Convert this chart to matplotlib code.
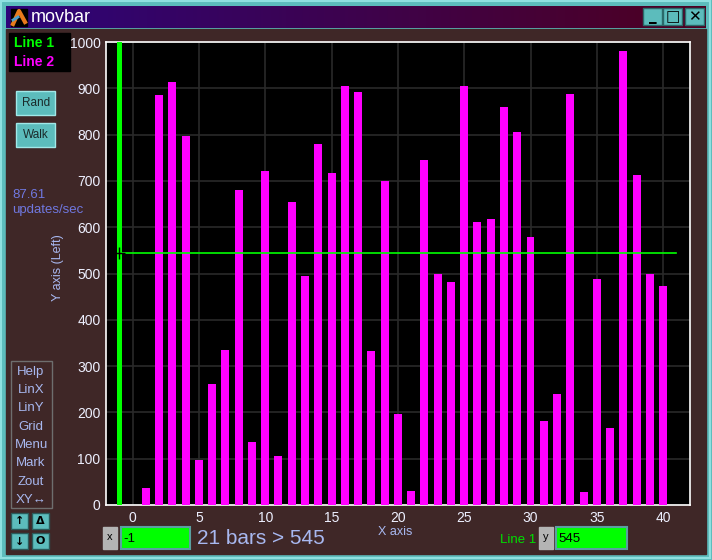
import numpy as np
import matplotlib
matplotlib.use("Agg")
import matplotlib.pyplot as plt
from matplotlib.patches import Rectangle

# data
bar_x = np.arange(1, 41)
bar_y = [37, 885, 914, 797, 97, 262, 335, 680, 136, 721,
         106, 654, 494, 779, 717, 905, 892, 333, 699, 197,
         30, 745, 500, 481, 905, 611, 617, 860, 805, 578,
         182, 240, 888, 28, 489, 167, 981, 712, 500, 473]
line1_x = [-1]
line1_y = [1000]
thresh = 545
cursor_x = -1
x_ticks = [0, 5, 10, 15, 20, 25, 30, 35, 40]
y_ticks = [0, 100, 200, 300, 400, 500, 600, 700, 800, 900, 1000]
menu_items = ["Help", "LinX", "LinY", "Grid", "Menu", "Mark", "Zout", "XY\u2194"]

W, H = 712, 560
BROWN = "#3f2727"
TEAL = "#5cbcbc"
LBLUE = "#a8b8f0"
GREEN = "#00ff00"
MAG = "#ff00ff"

plt.rcParams["font.family"] = ["Liberation Sans", "DejaVu Sans"]

fig = plt.figure(figsize=(W / 100, H / 100), dpi=100, facecolor=TEAL)

# background axes in pixel coordinates for the window chrome
bg = fig.add_axes([0, 0, 1, 1])
bg.set_xlim(0, W)
bg.set_ylim(H, 0)
bg.axis("off")

bg.add_patch(Rectangle((1, 1), W - 3, H - 3, fill=False, ec="#8fe0e0", lw=1.5))
bg.add_patch(Rectangle((6, 29), W - 12, H - 35, color=BROWN))

# title bar gradient
grad = np.linspace(0, 1, 256)
c0 = np.array([45, 5, 122]) / 255
c1 = np.array([78, 0, 32]) / 255
img = (c0[None, :] * (1 - grad[:, None]) + c1[None, :] * grad[:, None])[None, :, :]
bg.imshow(img, extent=(6, W - 6, 28, 6), aspect="auto", zorder=1)
bg.add_patch(Rectangle((11, 9), 16, 17, color="black", zorder=2))
bg.plot([13, 19, 25], [24, 11, 22], color="#e87a1c", lw=3, zorder=3)
bg.plot([13, 18], [20, 17], color="#4aa0d0", lw=2, zorder=3)
bg.text(31, 17.5, "movbar", color="white", fontsize=13, va="center", ha="left", zorder=3)

# window buttons
for bx, sym in zip([643, 663, 685], ["_", "\u25a1", "\u2715"]):
    bg.add_patch(Rectangle((bx, 8), 19, 17, fc=TEAL, ec="#2a6a6a", lw=1, zorder=3))
    bg.text(bx + 9.5, 16.5, sym, ha="center", va="center", fontsize=11,
            fontweight="bold", color="black", family=["DejaVu Sans"], zorder=4)

# legend box
bg.add_patch(Rectangle((9, 33), 61, 38, color="black"))
bg.text(14, 43, "Line 1", color=GREEN, fontsize=10, fontweight="bold", va="center")
bg.text(14, 62, "Line 2", color=MAG, fontsize=10, fontweight="bold", va="center")

# Rand / Walk buttons
for by, lab in [(91, "Rand"), (123, "Walk")]:
    bg.add_patch(Rectangle((16, by), 39, 24, fc=TEAL, ec="#a0e8e8", lw=1))
    bg.text(36, by + 12.5, lab, ha="center", va="center", fontsize=8.5, color="#1a2a2a")

bg.text(12, 195, "87.61", color="#7078e0", fontsize=9.5, va="center", ha="left")
bg.text(12, 210, "updates/sec", color="#7078e0", fontsize=9.5, va="center", ha="left")

bg.text(58, 268, "Y axis (Left)", rotation=90, color=LBLUE, fontsize=9,
        ha="center", va="center")

# menu box
bg.add_patch(Rectangle((11, 361), 41, 147, fill=False, ec="#6e6e6e", lw=1))
for i, item in enumerate(menu_items):
    bg.text(31, 371.5 + i * 18.4, item, ha="center", va="center", fontsize=9.5,
            color=LBLUE, family=["Liberation Sans", "DejaVu Sans"])

# arrow / delta buttons
for (bx, by), sym in zip([(11, 513), (32, 513), (11, 533), (32, 533)],
                         ["\u2191", "\u0394", "\u2193", "O"]):
    bg.add_patch(Rectangle((bx, by), 17, 16, fc=TEAL, ec="#2a5a5a", lw=1))
    bg.text(bx + 8.5, by + 8.5, sym, ha="center", va="center", fontsize=8,
            fontweight="bold", color="black", family=["DejaVu Sans"])

# bottom controls
bg.add_patch(Rectangle((103, 527), 14, 22, color="#b4b4b4"))
bg.text(110, 537, "x", ha="center", va="center", fontsize=8, color="black")
bg.add_patch(Rectangle((121, 527), 69, 22, fc=GREEN, ec="#5aa0a0", lw=1.5))
bg.text(123, 539, "-1", ha="left", va="center", fontsize=9.5, color="black")
bg.text(197, 539, "21 bars > %d" % thresh, ha="left", va="center", fontsize=15,
        color=LBLUE)
bg.text(395, 532, "X axis", ha="center", va="center", fontsize=9, color=LBLUE)
bg.text(500, 540, "Line 1", ha="left", va="center", fontsize=9.5, color="#00e000")
bg.add_patch(Rectangle((539, 527), 14, 22, color="#b4b4b4"))
bg.text(546, 537, "y", ha="center", va="center", fontsize=8, color="black")
bg.add_patch(Rectangle((556, 527), 71, 22, fc=GREEN, ec="#5aa0a0", lw=1.5))
bg.text(558, 539, str(thresh), ha="left", va="center", fontsize=9.5, color="black")

# main plot axes
ax = fig.add_axes([106 / W, (H - 505) / H, 583.7 / W, 463 / H])
ax.set_facecolor("black")
ax.bar(bar_x, bar_y, width=0.6, color=MAG, zorder=3)
ax.bar(line1_x, line1_y, width=0.38, color=GREEN, zorder=3)
ax.plot([cursor_x, 41], [thresh, thresh], color=GREEN, lw=1.2, zorder=4)
ax.plot([cursor_x], [thresh], marker="+", color="black", ms=9, mew=1, zorder=5)
ax.set_xlim(-2, 42)
ax.set_ylim(0, 1000)
ax.set_xticks(x_ticks)
ax.set_yticks(y_ticks)
ax.grid(True, color="#2a2a2a", lw=1.2, zorder=0)
ax.tick_params(length=0, colors="#eef0ff", labelsize=10, pad=4)
for s in ax.spines.values():
    s.set_color("white")
    s.set_linewidth(1.2)

fig.savefig("out.png", dpi=100, facecolor=TEAL)
